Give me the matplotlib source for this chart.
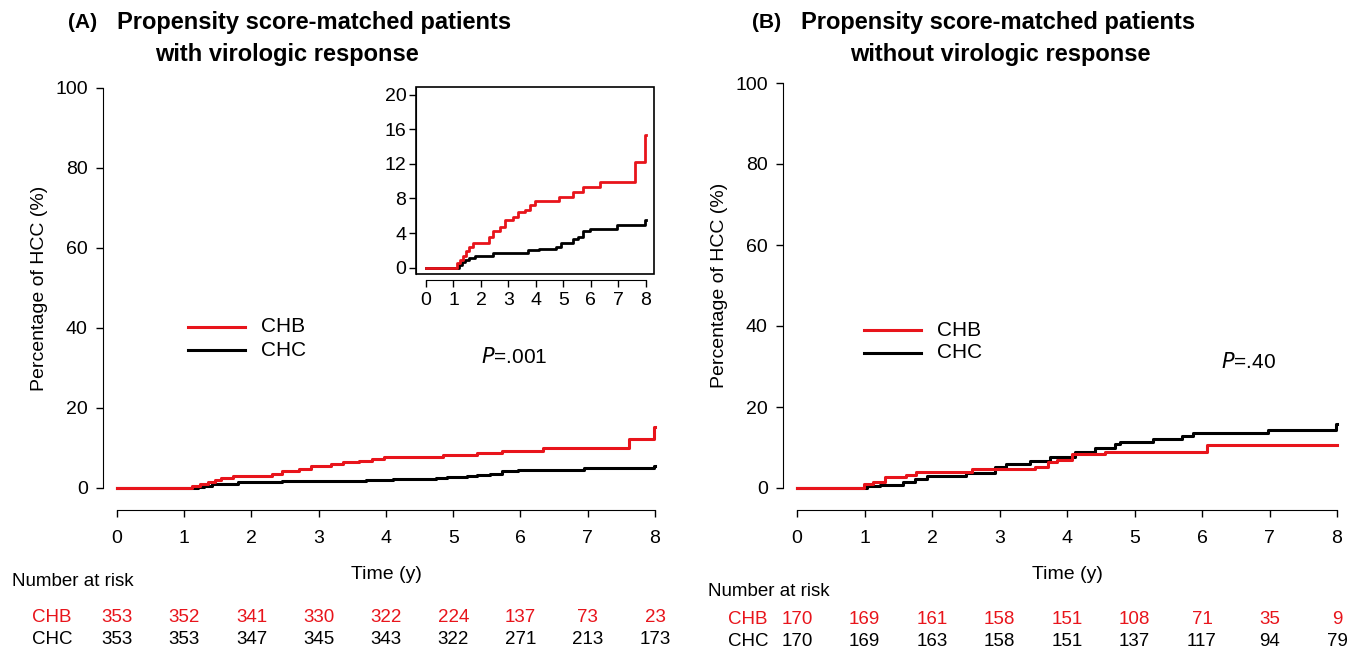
import matplotlib
matplotlib.use("Agg")
import matplotlib.pyplot as plt
from matplotlib.patches import Rectangle
from matplotlib.transforms import blended_transform_factory

plt.rcParams['font.family'] = ['Liberation Sans', 'DejaVu Sans']

W, H = 1358, 648
RED = '#e8141b'

# Panel A: patients with virologic response (cumulative HCC %, step times in years)
a_chb_t = [0, 1.12, 1.24, 1.35, 1.45, 1.55, 1.72, 2.30, 2.45, 2.70, 2.88, 3.18, 3.36,
           3.60, 3.79, 3.97, 4.85, 5.36, 5.73, 6.33, 7.62, 7.99, 8.0]
a_chb_y = [0, 0.5, 0.9, 1.4, 1.9, 2.4, 2.9, 3.5, 4.2, 4.7, 5.5, 5.9, 6.4,
           6.7, 7.3, 7.7, 8.2, 8.7, 9.3, 9.9, 12.2, 15.3, 15.3]
a_chc_t = [0, 1.20, 1.30, 1.42, 1.55, 1.80, 2.45, 3.70, 4.10, 4.75, 4.90, 5.20, 5.36,
           5.55, 5.73, 5.97, 6.94, 7.99, 8.0]
a_chc_y = [0, 0.3, 0.6, 0.9, 1.1, 1.4, 1.7, 2.0, 2.2, 2.4, 2.8, 2.9, 3.3,
           3.6, 4.2, 4.5, 4.9, 5.5, 5.5]

# Panel B: patients without virologic response
b_chb_t = [0, 0.99, 1.13, 1.30, 1.62, 1.77, 2.59, 3.53, 3.72, 3.85, 4.07, 4.56, 6.07, 8.0]
b_chb_y = [0, 1.0, 1.6, 2.6, 3.2, 4.0, 4.6, 5.2, 6.5, 7.0, 8.3, 8.9, 10.6, 10.6]
b_chc_t = [0, 1.03, 1.23, 1.57, 1.75, 1.92, 2.51, 2.93, 3.10, 3.45, 3.75, 4.12, 4.41,
           4.71, 4.79, 5.28, 5.70, 5.87, 6.98, 7.99, 8.0]
b_chc_y = [0, 0.4, 0.8, 1.55, 2.1, 2.9, 3.6, 5.2, 5.9, 6.7, 7.6, 8.8, 9.8,
           10.8, 11.4, 12.2, 12.9, 13.5, 14.3, 15.8, 15.8]

years = list(range(9))
a_risk_chb = [353, 352, 341, 330, 322, 224, 137, 73, 23]
a_risk_chc = [353, 353, 347, 345, 343, 322, 271, 213, 173]
b_risk_chb = [170, 169, 161, 158, 151, 108, 71, 35, 9]
b_risk_chc = [170, 169, 163, 158, 151, 137, 117, 94, 79]

fig = plt.figure(figsize=(W / 100, H / 100), dpi=100)


def px_axes(left, top, right, bottom):
    return fig.add_axes([left / W, 1 - bottom / H, (right - left) / W, (bottom - top) / H])


def ftext(x, y, s, **kw):
    fig.text(x / W, 1 - y / H, s, **kw)


def main_panel(box, chb, chc, risk_chb, risk_chc, leg_xy, p_xy, p_txt, risk_y, lab_x):
    ax = px_axes(*box)
    ax.step(chb[0], chb[1], where='post', color=RED, lw=2.2, clip_on=False, zorder=3)
    ax.step(chc[0], chc[1], where='post', color='black', lw=2.2, clip_on=False, zorder=2)
    ax.set_xlim(0, 8)
    ax.set_ylim(0, 100)
    for s in ['top', 'right']:
        ax.spines[s].set_visible(False)
    ax.spines['left'].set_position(('outward', 10))
    ax.spines['bottom'].set_position(('outward', 16))
    ax.spines['left'].set_bounds(0, 100)
    ax.spines['bottom'].set_bounds(0, 8)
    ax.set_xticks(years)
    ax.set_yticks([0, 20, 40, 60, 80, 100])
    ax.tick_params(direction='out', length=5, width=1, labelsize=14, pad=6)
    ax.tick_params(axis='x', pad=9)
    ax.set_xlabel('Time (y)', fontsize=14, labelpad=14)
    ax.set_ylabel('Percentage of HCC (%)', fontsize=14, labelpad=5)

    # legend drawn by hand
    lx, ly = leg_xy
    tr = fig.transFigure
    for dy, col, name in [(0, RED, 'CHB'), (23, 'black', 'CHC')]:
        fig.add_artist(plt.Line2D([lx / W, (lx + 57) / W], [1 - (ly + dy) / H] * 2,
                                  color=col, lw=2.2, transform=tr))
        ftext(lx + 73, ly + dy, name, fontsize=15, va='center')
    ftext(p_xy[0], p_xy[1], r'$\it{P}$' + p_txt, fontsize=15, va='center', math_fontfamily='dejavusans')

    # number at risk table
    bt = blended_transform_factory(ax.transData, fig.transFigure)
    ftext(lab_x, risk_y[0], 'Number at risk', fontsize=13.5, va='center')
    for row, vals, col in [(1, risk_chb, RED), (2, risk_chc, 'black')]:
        ftext(lab_x + 20, risk_y[row], row == 1 and 'CHB' or 'CHC', fontsize=13.5,
              va='center', color=col)
        for x, v in zip(years, vals):
            ax.text(x, 1 - risk_y[row] / H, str(v), transform=bt, fontsize=13.5,
                    ha='center', va='center', color=col)
    return ax


main_panel((117, 88, 655, 488), (a_chb_t, a_chb_y), (a_chc_t, a_chc_y),
           a_risk_chb, a_risk_chc, (188, 327), (481, 357), '=.001', (582, 617, 640), 12)
main_panel((797, 83, 1337, 488), (b_chb_t, b_chb_y), (b_chc_t, b_chc_y),
           b_risk_chb, b_risk_chc, (864, 330), (1221, 362), '=.40', (592, 620, 641), 708)

# inset for panel A
ins = px_axes(416, 87, 654, 274)
ins.step(a_chb_t, a_chb_y, where='post', color=RED, lw=2.0, zorder=3)
ins.step(a_chc_t, a_chc_y, where='post', color='black', lw=2.0, zorder=2)
ins.set_xlim(-0.364, 8.30)
ins.set_ylim(-0.73, 20.89)
ins.add_patch(Rectangle((0, 0), 1, 1, transform=ins.transAxes, fill=False, lw=1.2,
                        clip_on=False, zorder=5))
ins.spines['top'].set_visible(False)
ins.spines['right'].set_visible(False)
ins.spines['bottom'].set_position(('outward', 4))
ins.spines['bottom'].set_bounds(0, 8)
ins.set_xticks(years)
ins.set_yticks([0, 4, 8, 12, 16, 20])
ins.tick_params(direction='out', length=5, width=1, labelsize=14, pad=2)
ins.tick_params(axis='x', pad=4)

# titles
ftext(68, 22, '(A)', fontsize=15, fontweight='bold', va='center')
ftext(314, 22, 'Propensity score-matched patients', fontsize=17, fontweight='bold',
      va='center', ha='center')
ftext(287, 54, 'with virologic response', fontsize=17, fontweight='bold', va='center', ha='center')
ftext(752, 22, '(B)', fontsize=15, fontweight='bold', va='center')
ftext(998, 22, 'Propensity score-matched patients', fontsize=17, fontweight='bold',
      va='center', ha='center')
ftext(1000, 55, 'without virologic response', fontsize=17, fontweight='bold', va='center', ha='center')

fig.savefig('out.png', dpi=100)
